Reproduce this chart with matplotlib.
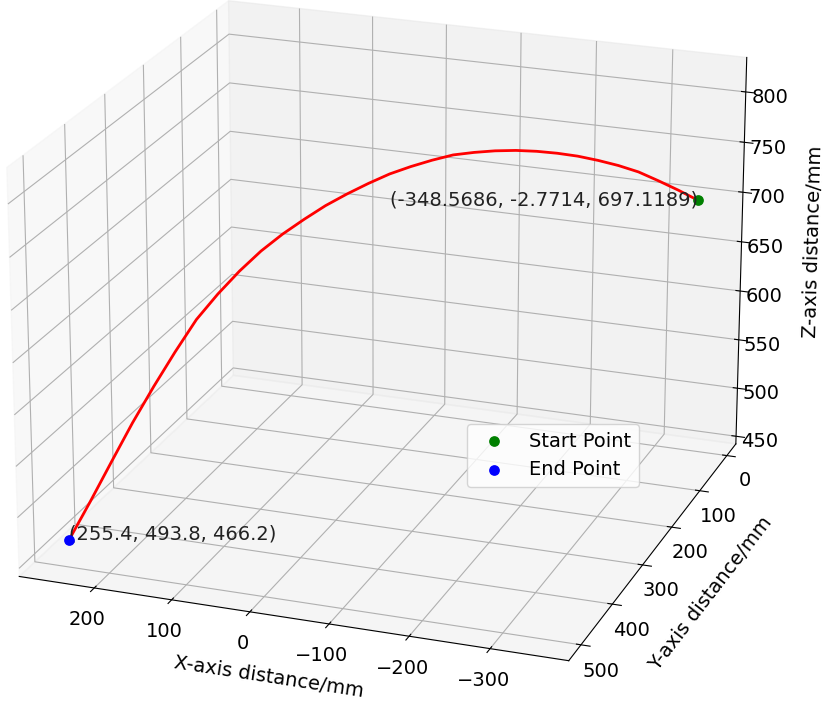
import matplotlib
matplotlib.use('Agg')
import matplotlib.pyplot as plt

# trajectory points
traj_x = [-348.6, -328.4, -308.3, -288.2, -268.0, -247.9, -227.8, -207.6, -187.5, -167.4, -147.2,
          -127.1, -107.0, -86.9, -66.7, -46.6, -26.5, -6.3, 13.8, 33.9, 54.1,
          74.2, 94.3, 114.5, 134.6, 154.7, 174.8, 195.0, 215.1, 235.3, 255.4]
traj_y = [-2.8, 13.8, 30.3, 46.9, 63.4, 80.0, 96.5, 113.1, 129.6, 146.2, 162.7,
          179.3, 195.9, 212.4, 229.0, 245.5, 262.1, 278.6, 295.2, 311.7, 328.3,
          344.8, 361.4, 377.9, 394.5, 411.0, 427.6, 444.1, 460.7, 477.2, 493.8]
traj_z = [697.1, 710.5, 723.0, 735.0, 744.5, 752.7, 760.0, 766.0, 771.0, 775.0, 777.7,
          779.3, 780.0, 778.0, 775.0, 771.0, 765.0, 758.0, 750.0, 740.0, 729.0,
          716.0, 700.0, 681.3, 660.0, 632.0, 602.0, 570.0, 535.3, 500.0, 466.2]

start_pt = (-348.5686, -2.7714, 697.1189)
end_pt = (255.4, 493.8, 466.2)
start_label = '(-348.5686, -2.7714, 697.1189)'
end_label = '(255.4, 493.8, 466.2)'

fs = 14

fig = plt.figure(figsize=(8.23, 7.06), dpi=100)
ax = fig.add_axes([-0.166, -0.084, 1.249, 1.249], projection='3d')

ax.plot(traj_x, traj_y, traj_z, color='red', linewidth=2)
ax.scatter(*start_pt, color='green', s=45, depthshade=False, label='Start Point')
ax.scatter(*end_pt, color='blue', s=45, depthshade=False, label='End Point')
ax.text(*start_pt, start_label, ha='right', va='center', fontsize=fs, color='#222222')
ax.text(*end_pt, end_label, ha='left', va='baseline', fontsize=fs, color='#222222')

ax.set_xlim(-396, 298)
ax.set_ylim(-34, 538)
ax.set_zlim(442, 834)
ax.set_xticks([200, 100, 0, -100, -200, -300])
ax.set_yticks([0, 100, 200, 300, 400, 500])
ax.set_zticks([450, 500, 550, 600, 650, 700, 750, 800])
ax.tick_params(labelsize=fs)

ax.set_xlabel('X-axis distance/mm', fontsize=fs, labelpad=10)
ax.set_ylabel('Y-axis distance/mm', fontsize=fs, labelpad=12)
ax.set_zlabel('Z-axis distance/mm', fontsize=fs, labelpad=14)

ax.view_init(elev=21, azim=110)

ax.legend(loc='center', bbox_to_anchor=(0.672, 0.355), bbox_transform=fig.transFigure, fontsize=fs)

fig.savefig('out.png', dpi=100)
